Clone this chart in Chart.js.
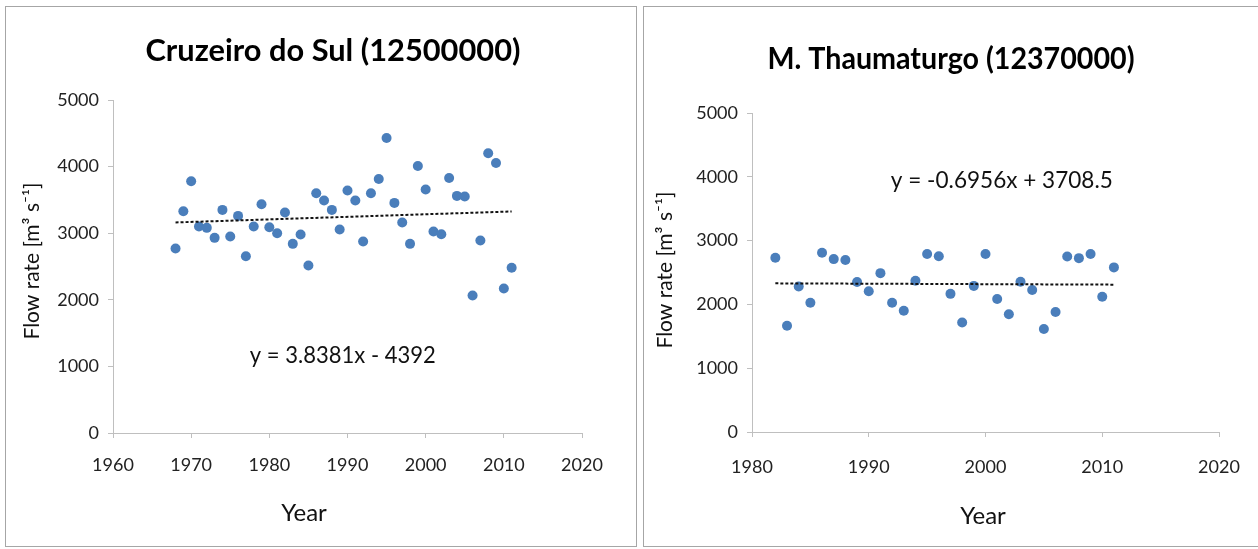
<!DOCTYPE html>
<html><head><meta charset="utf-8">
<script src="https://cdn.jsdelivr.net/npm/chart.js@4.4.1/dist/chart.umd.min.js"></script>
<style>
html,body{margin:0;padding:0;background:#fff;width:1258px;height:549px;overflow:hidden;}
.panel{position:absolute;border:1px solid #a6a6a6;background:#fff;}
#p1{left:5px;top:6px;width:630px;height:539px;}
#p2{left:643px;top:6px;width:620px;height:539px;}
canvas{display:block;}
</style></head><body>
<div class="panel" id="p1"><canvas id="c1" width="630" height="539"></canvas></div>
<div class="panel" id="p2"><canvas id="c2" width="620" height="539"></canvas></div>
<script>
const FONT = "Lato, 'Open Sans', sans-serif";

// Cruzeiro do Sul (12500000)
const titleCZS = "Cruzeiro do Sul (12500000)";
const yearsCZS = [1968,1969,1970,1971,1972,1973,1974,1975,1976,1977,1978,1979,1980,1981,1982,1983,1984,1985,1986,1987,1988,1989,1990,1991,1992,1993,1994,1995,1996,1997,1998,1999,2000,2001,2002,2003,2004,2005,2006,2007,2008,2009,2010,2011];
const flowCZS = [2770,3330,3780,3100,3080,2930,3350,2950,3260,2655,3100,3435,3090,3000,3310,2840,2980,2515,3600,3490,3350,3055,3640,3490,2875,3600,3815,4430,3455,3160,2840,4010,3655,3025,2985,3830,3560,3550,2065,2890,4200,4055,2170,2480];
const trendCZS = [3.8381, -4392];          // slope, intercept
const xTicksCZS = [1960, 2020, 10];        // min, max, step
const yTicksCZS = [0, 5000, 1000];

// M. Thaumaturgo (12370000)
const titleMT = "M. Thaumaturgo (12370000)";
const yearsMT = [1982,1983,1984,1985,1986,1987,1988,1989,1990,1991,1992,1993,1994,1995,1996,1997,1998,1999,2000,2001,2002,2003,2004,2005,2006,2007,2008,2009,2010,2011];
const flowMT = [2730,1665,2280,2025,2810,2710,2695,2350,2205,2490,2025,1900,2370,2790,2755,2165,1715,2290,2790,2085,1845,2355,2225,1615,1880,2750,2725,2790,2120,2580];
const trendMT = [-0.6956, 3708.5];
const xTicksMT = [1980, 2020, 10];
const yTicksMT = [0, 5000, 1000];

const yTitle = "Flow rate [m\u00B3 s\u207B\u00B9]";
const xTitle = "Year";

function fmtEq(t){
  return "y = " + t[0] + "x " + (t[1] < 0 ? "- " : "+ ") + Math.abs(t[1]);
}

// draws chart title and axis titles as canvas text
const textPlugin = {
  id: 'texts',
  afterDraw(chart, args, o){
    const {ctx} = chart;
    o.items.forEach(it => {
      ctx.save();
      ctx.font = (it.weight || 'normal') + ' ' + it.size + 'px ' + FONT;
      ctx.fillStyle = it.color || '#111';
      ctx.textAlign = 'center';
      ctx.textBaseline = 'middle';
      ctx.translate(it.x, it.y);
      if (it.rot) ctx.rotate(it.rot);
      if (it.maxWidth) ctx.fillText(it.text, 0, 0, it.maxWidth); else ctx.fillText(it.text, 0, 0);
      ctx.restore();
    });
  }
};

function makeChart(id, cfg){
  const pts = cfg.years.map((yr, i) => ({x: yr, y: cfg.flow[i]}));
  const x0 = cfg.years[0], x1 = cfg.years[cfg.years.length - 1];
  const tl = [{x: x0, y: cfg.trend[0]*x0 + cfg.trend[1]}, {x: x1, y: cfg.trend[0]*x1 + cfg.trend[1]}];
  const axisCol = '#bfbfbf';
  const eqPlugin = {
    id: 'eq',
    afterDatasetsDraw(chart){
      const {ctx, scales:{x, y}} = chart;
      ctx.save();
      ctx.font = cfg.eq.size + "px " + FONT;
      ctx.fillStyle = '#111';
      ctx.textAlign = 'center';
      ctx.textBaseline = 'middle';
      ctx.fillText(fmtEq(cfg.trend), x.getPixelForValue(cfg.eq.x), y.getPixelForValue(cfg.eq.y), cfg.eq.maxWidth);
      ctx.restore();
    }
  };
  return new Chart(document.getElementById(id), {
    type: 'scatter',
    data: { datasets: [
      { data: tl, showLine: true, pointRadius: 0, borderColor: '#111', borderWidth: 2, borderDash: [3, 2], fill: false },
      { data: pts, pointRadius: 5, pointHoverRadius: 5, backgroundColor: '#4a7ebb', borderColor: '#4a7ebb', borderWidth: 0 }
    ]},
    plugins: [eqPlugin, textPlugin],
    options: {
      responsive: false, animation: false,
      layout: { padding: { left: 0, right: cfg.padRight, top: cfg.padTop, bottom: 0 } },
      plugins: {
        legend: { display: false }, tooltip: { enabled: false }, title: { display: false },
        texts: { items: [
          { text: cfg.title, x: cfg.titlePos[0], y: cfg.titlePos[1], size: 31, weight: 'bold', color: '#000', maxWidth: cfg.titlePos[2] },
          { text: yTitle, x: cfg.yTitlePos[0], y: cfg.yTitlePos[1], size: 21, rot: -Math.PI/2, maxWidth: 160 },
          { text: xTitle, x: cfg.xTitlePos[0], y: cfg.xTitlePos[1], size: 24 }
        ] }
      },
      scales: {
        x: { type: 'linear', min: cfg.xt[0], max: cfg.xt[1],
          ticks: { stepSize: cfg.xt[2], color: '#222', font: { family: FONT, size: 18 }, padding: cfg.xTickPad, callback: v => String(v), maxRotation: 0 },
          grid: { drawOnChartArea: false, drawTicks: true, tickLength: 5, color: axisCol },
          border: { color: axisCol, width: 1 },
          title: { display: false },
          afterFit: s => { s.height = cfg.xHeight; } },
        y: { type: 'linear', min: cfg.yt[0], max: cfg.yt[1],
          ticks: { stepSize: cfg.yt[2], color: '#222', font: { family: FONT, size: 18 }, padding: 9, callback: v => String(v) },
          grid: { drawOnChartArea: false, drawTicks: true, tickLength: 5, color: axisCol },
          border: { color: axisCol, width: 1 },
          title: { display: false },
          afterFit: s => { s.width = cfg.yWidth; } }
      }
    }
  });
}

makeChart('c1', { title: titleCZS, years: yearsCZS, flow: flowCZS, trend: trendCZS, xt: xTicksCZS, yt: yTicksCZS,
  padRight: 54, padTop: 93, xHeight: 113, xTickPad: 16, yWidth: 107,
  titlePos: [327, 44, 375], yTitlePos: [26, 254], xTitlePos: [298, 506],
  eq: { x: 1989.4, y: 1170, size: 24, maxWidth: 186 } });
makeChart('c2', { title: titleMT, years: yearsMT, flow: flowMT, trend: trendMT, xt: xTicksMT, yt: yTicksMT,
  padRight: 45, padTop: 106, xHeight: 114, xTickPad: 19, yWidth: 108,
  titlePos: [307, 52, 367], yTitlePos: [21, 263], xTitlePos: [339, 509],
  eq: { x: 2001.4, y: 3950, size: 24, maxWidth: 222 } });
</script>
</body></html>
